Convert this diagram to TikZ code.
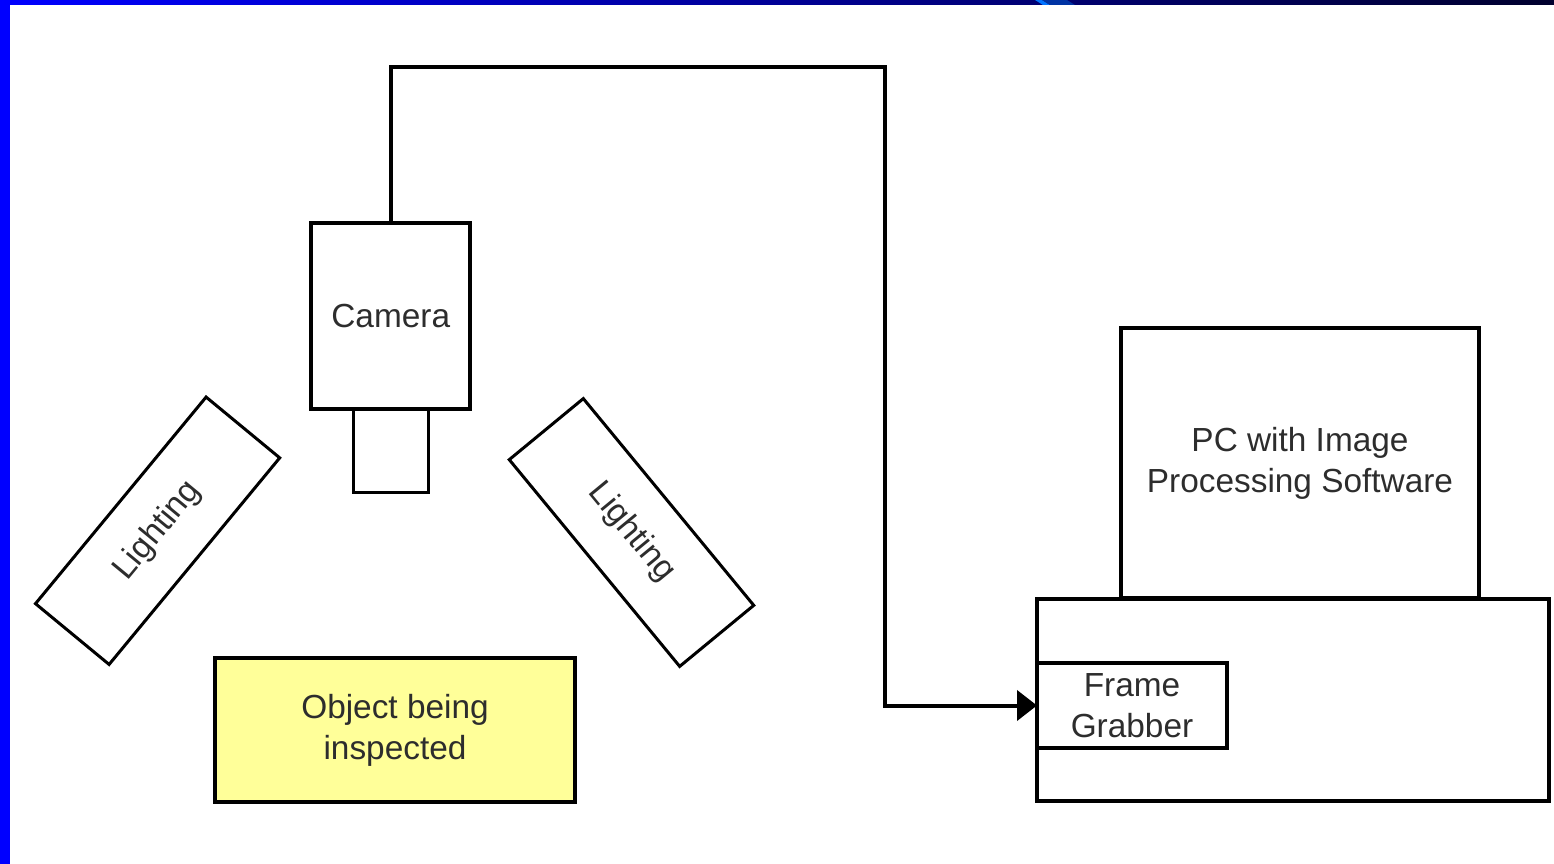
\documentclass[tikz,border=0pt]{standalone}
\usepackage{fontspec}
\setmainfont{Liberation Sans}
\usetikzlibrary{arrows.meta}

\definecolor{slideblue}{RGB}{0,0,255}
\definecolor{slidenavy}{RGB}{0,0,45}
\definecolor{objyellow}{RGB}{255,255,153}
\definecolor{ink}{RGB}{45,45,45}

\begin{document}
\begin{tikzpicture}[
    x={(0.02cm,0)}, y={(0,-0.02cm)},
    every node/.style={text=ink, font=\fontsize{19}{23.3}\selectfont},
    box/.style={draw=black, line width=0.08cm, outer sep=0pt, inner sep=0pt, align=center},
    thinbox/.style={box, line width=0.06cm},
    wire/.style={draw=black, line width=0.08cm}
]
    \useasboundingbox (0,0) rectangle (1554,864);

    % --- SLIDE FRAME ---
    \fill[slideblue] (0,0) rectangle (10,864);
    \shade[left color=slideblue, right color=slidenavy] (0,0) rectangle (1554,5);
    \fill[blue!55!cyan] (1043,5) -- (1050,5) -- (1042,0) -- (1035,0) -- cycle;
    \fill[slideblue!45!slidenavy!80!cyan] (1050,5) -- (1075,5) -- (1067,0) -- (1042,0) -- cycle;

    % --- CAMERA ---
    \node[box, minimum width=3.19cm, minimum height=3.73cm] (camera) at (390.75,316.25) {Camera};
    \node[thinbox, minimum width=1.5cm, minimum height=1.66cm, anchor=north] (lens) at (camera.south) {};

    % --- LIGHTING ---
    \node[thinbox, minimum width=5.36cm, minimum height=1.91cm, rotate=50.45] (lampL) at (157.6,530.75) {Lighting};
    \node[thinbox, minimum width=5.36cm, minimum height=1.92cm, rotate=-50.5] (lampR) at (631.5,532.5) {Lighting};

    % --- OBJECT ---
    \node[box, fill=objyellow, minimum width=7.2cm, minimum height=2.87cm] (object) at (395,730) {Object being\\inspected};

    % --- PC ---
    \node[box, minimum width=7.16cm, minimum height=5.4cm] (pc) at (1300,463) {PC with Image\\Processing Software};
    \node[box, minimum width=10.23cm, minimum height=4.04cm] (base) at (1292.9,700) {};
    \node[box, minimum width=3.8cm, minimum height=1.72cm, anchor=west] (grabber) at (1037,705.5) {Frame\\Grabber};

    % Cable (camera to frame grabber)
    \coordinate (bend) at (885,67);
    \draw[wire, -{Triangle[length=0.4cm, width=0.6cm]}] (camera.north) |- (bend) |- (grabber.west);

\end{tikzpicture}
\end{document}
